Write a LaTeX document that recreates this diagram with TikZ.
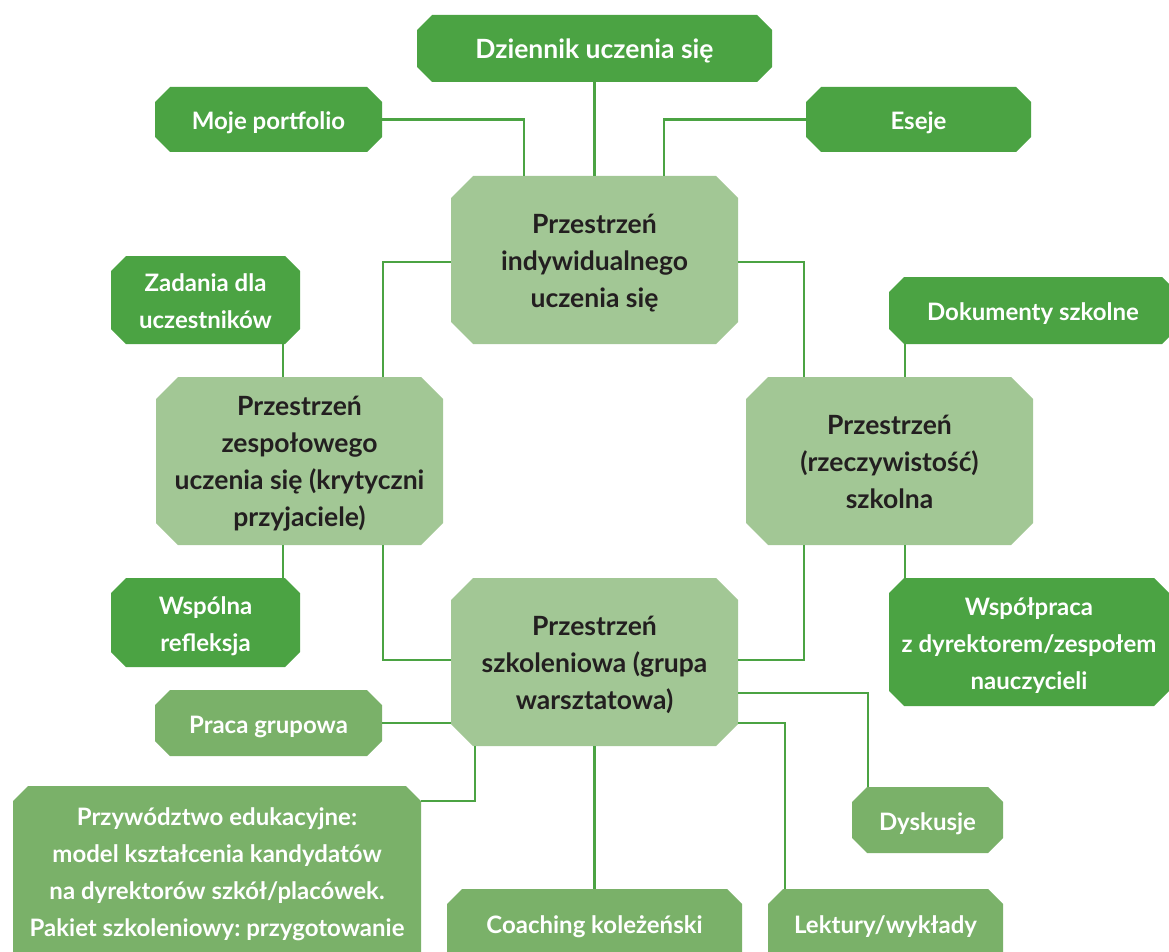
\documentclass[tikz,border=0pt]{standalone}
\usepackage{fontspec}
\setmainfont{Lato}
\frenchspacing
\definecolor{cdk}{HTML}{4BA343}
\definecolor{clt}{HTML}{A2C795}
\definecolor{cmd}{HTML}{7AB169}
\definecolor{txtdark}{HTML}{231F20}
\tikzset{
  boxbase/.style={inner sep=0pt, align=center, font=\fontsize{24}{37}\selectfont\bfseries},
  dk/.style={boxbase, text=white},
  md/.style={boxbase, text=white},
  lt/.style={boxbase, text=txtdark, font=\fontsize{26.5}{37}\selectfont\bfseries},
  conn/.style={draw=cdk, line width=2.5pt}
}
\newcommand\lowtxt[1]{\raisebox{-3pt}[\height][\depth]{\begin{tabular}{@{}c@{}}#1\end{tabular}}}
\newcommand\octfill[6]{\fill[#6] ({#1+#5},#2) -- ({#3-#5},#2) -- (#3,{#2+#5}) -- (#3,{#4-#5}) -- ({#3-#5},#4) -- ({#1+#5},#4) -- (#1,{#4-#5}) -- (#1,{#2+#5}) -- cycle;}
\newcommand\obox[8]{\octfill{#2}{#3}{#4}{#5}{#6}{c#7}\node[#7, minimum width={(#4-#2)*1pt}, minimum height={(#5-#3)*1pt}] (#1) at ({(#2+#4)/2},{(#3+#5)/2}) {\lowtxt{#8}};}
\begin{document}
\begin{tikzpicture}[x=1pt,y=-1pt]
\useasboundingbox (0,0) rectangle (1169,952);
\clip (0,0) rectangle (1169,952);
% boxes
\obox{dz}{417}{15}{772}{82}{15}{dk}{\fontsize{26.5}{37}\selectfont Dziennik uczenia się}
\obox{moje}{155}{87}{382}{152}{15}{dk}{Moje portfolio}
\obox{es}{806}{87}{1031}{152}{15}{dk}{Eseje}
\obox{ind}{451}{176}{738}{344}{22}{lt}{Przestrzeń\\indywidualnego\\uczenia się}
\obox{zad}{111}{256}{300}{344}{15}{dk}{Zadania dla\\uczestników}
\obox{zes}{156}{377}{443}{545}{22}{lt}{Przestrzeń\\zespołowego\\uczenia się (krytyczni\\przyjaciele)}
\obox{dok}{889}{277}{1177}{344}{15}{dk}{Dokumenty szkolne}
\obox{rz}{746}{377}{1033}{545}{22}{lt}{Przestrzeń\\(rzeczywistość)\\szkolna}
\obox{wsp}{111}{578}{300}{667}{15}{dk}{Wspólna\\refleksja}
\obox{wspol}{889}{578}{1169}{706}{15}{dk}{Współpraca\\z dyrektorem/zespołem\\nauczycieli}
\obox{szk}{451}{578}{738}{746}{22}{lt}{Przestrzeń\\szkoleniowa (grupa\\warsztatowa)}
\obox{pr}{155}{690}{382}{756}{15}{md}{Praca grupowa}
\obox{dys}{852}{787}{1003}{853}{15}{md}{Dyskusje}
\octfill{13}{786}{421}{1010}{15}{cmd}
\node[md, minimum width=408pt, minimum height=170pt] (prz) at (217,871) {\lowtxt{Przywództwo edukacyjne:\\model kształcenia kandydatów\\na dyrektorów szkół/placówek.\\Pakiet szkoleniowy: przygotowanie}};
\octfill{447}{889}{742}{1000}{15}{cmd}
\node[md, minimum width=295pt, minimum height=68pt] (coach) at (594.5,923) {\lowtxt{Coaching koleżeński}};
\octfill{768}{889}{1003}{1000}{15}{cmd}
\node[md, minimum width=235pt, minimum height=68pt] (lek) at (885.5,923) {\lowtxt{Lektury/wykłady}};
% connectors
\draw[conn] (dz.south) -- (ind.north);
\draw[conn] (moje.east) -| ([xshift=-70.5pt]ind.north);
\draw[conn] (es.west) -| ([xshift=69.5pt]ind.north);
\draw[conn] ([yshift=-2pt]ind.west) -| ([xshift=83.5pt]zes.north);
\draw[conn] ([yshift=-2pt]ind.east) -| ([xshift=-85.5pt]rz.north);
\draw[conn] ([xshift=77.5pt]zad.south) -- ([xshift=-16.5pt]zes.north);
\draw[conn] ([xshift=-16.5pt]zes.south) -- ([xshift=77.5pt]wsp.north);
\draw[conn] ([xshift=83.5pt]zes.south) |- ([yshift=2pt]szk.west);
\draw[conn] ([xshift=-85.5pt]rz.south) |- ([yshift=2pt]szk.east);
\draw[conn] ([xshift=-128pt]dok.south) -- ([xshift=15.5pt]rz.north);
\draw[conn] ([xshift=15.5pt]rz.south) -- ([xshift=-124pt]wspol.north);
\draw[conn] (pr.east) -- (pr.east -| szk.west);
\draw[conn] ([yshift=-31pt]szk.east) -| ([xshift=-59.5pt]dys.north);
\draw[conn] ([yshift=-61pt]szk.east) -| ([xshift=-100.5pt]lek.north);
\draw[conn] ([xshift=-119.5pt]szk.south) |- ([yshift=70pt]prz.east);
\draw[conn] (szk.south) -- (coach.north);
\end{tikzpicture}
\end{document}
